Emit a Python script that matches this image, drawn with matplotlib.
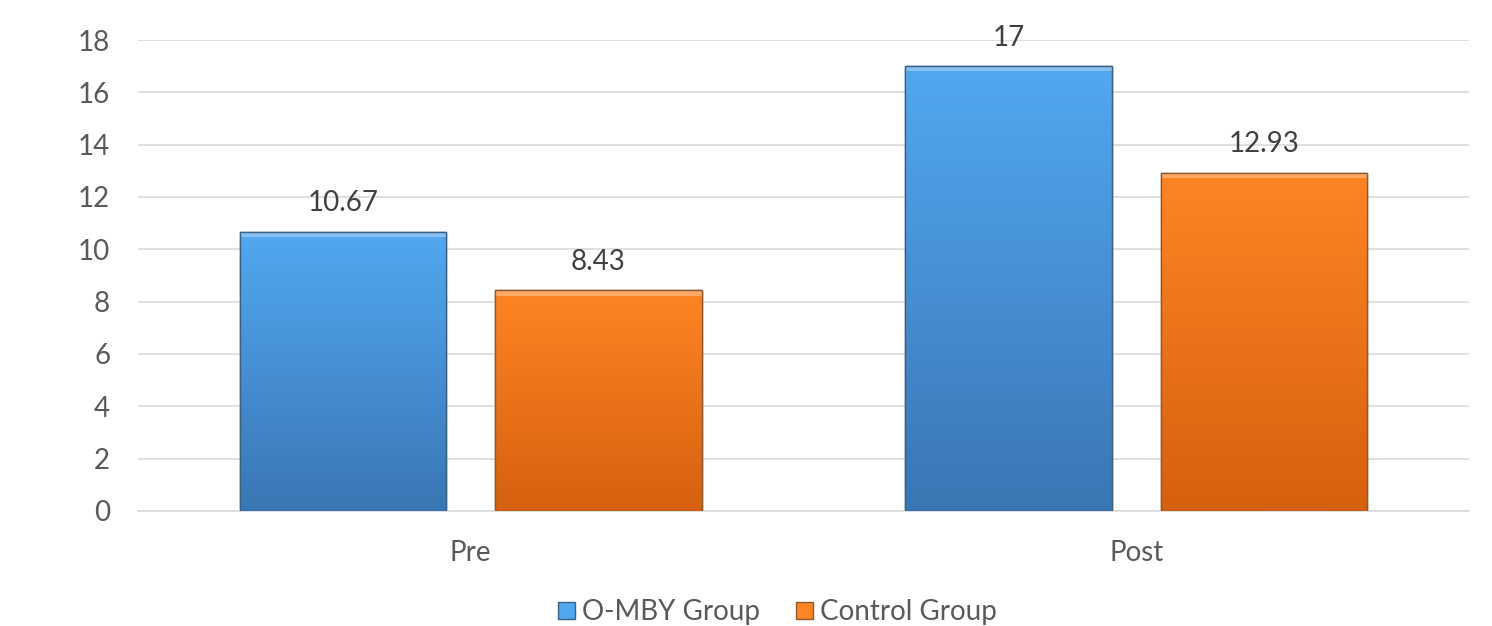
import numpy as np
import matplotlib.pyplot as plt
import matplotlib.colors as mcolors
import matplotlib.patches as mpatches

# --- Data ---
categories = ['Pre', 'Post']
series_names = ['O-MBY Group', 'Control Group']
omby_values = [10.67, 17]
control_values = [8.43, 12.93]
value_labels = [['10.67', '17'], ['8.43', '12.93']]

# --- Style ---
plt.rcParams['font.family'] = ['Lato', 'DejaVu Sans']
FS = 20
TEXT_COLOR = '#595959'
GRID_COLOR = '#d9d9d9'
grad_colors = [('#52a8f0', '#3a76b4'), ('#ff8424', '#d5600f')]
edge_colors = ['#3d5f80', '#8a5a30']

fig = plt.figure(figsize=(14.92, 6.26), dpi=100)
ax = fig.add_axes([0.0925, 0.184, 0.892, 0.752])

x = np.arange(len(categories))
width = 0.31
offsets = [-0.192, 0.192]

for s, (vals, off) in enumerate(zip([omby_values, control_values], offsets)):
    bars = ax.bar(x + off, vals, width, color=grad_colors[s][0],
                  edgecolor=edge_colors[s], linewidth=1.0, zorder=2)
    cmap = mcolors.LinearSegmentedColormap.from_list('g', [grad_colors[s][1], grad_colors[s][0]])
    for bar, lab in zip(bars, value_labels[s]):
        x0, y0 = bar.get_x(), bar.get_y()
        w, h = bar.get_width(), bar.get_height()
        grad = np.linspace(0, 1, 256).reshape(-1, 1)
        im = ax.imshow(grad, cmap=cmap, origin='lower', aspect='auto',
                       extent=[x0, x0 + w, y0, y0 + h], zorder=3)
        im.set_clip_path(bar)
        # light highlight along the top edge
        ax.add_patch(mpatches.Rectangle((x0, y0 + h - 0.2), w, 0.2,
                                        color='white', alpha=0.3, lw=0, zorder=4))
        ax.add_patch(mpatches.Rectangle((x0, y0), w, h, fill=False,
                                        edgecolor=edge_colors[s], lw=1.0, zorder=5))
        ax.text(x0 + w / 2, h + 0.6, lab, ha='center', va='bottom',
                fontsize=FS, color='#404040')

ax.set_xlim(-0.5, 1.5)
ax.set_ylim(0, 18)
ax.set_yticks(np.arange(0, 19, 2))
ax.set_xticks(x)
ax.set_xticklabels(categories)
ax.tick_params(axis='both', length=0, labelsize=FS, colors=TEXT_COLOR)
ax.tick_params(axis='y', pad=20)
ax.tick_params(axis='x', pad=21)
ax.yaxis.grid(True, color=GRID_COLOR, linewidth=1.2, zorder=0)
ax.set_axisbelow(True)
for side in ['top', 'right', 'left']:
    ax.spines[side].set_visible(False)
ax.spines['bottom'].set_color(GRID_COLOR)
ax.spines['bottom'].set_linewidth(1.2)

handles = [mpatches.Patch(facecolor=grad_colors[i][0], edgecolor=edge_colors[i], label=series_names[i])
           for i in range(2)]
fig.legend(handles=handles, loc='center', bbox_to_anchor=(0.521, 0.022), ncol=2,
           frameon=False, fontsize=FS, handlelength=0.6, handleheight=0.6,
           handletextpad=0.25, columnspacing=1.3, labelcolor=TEXT_COLOR)

fig.savefig('out.png', dpi=100)
